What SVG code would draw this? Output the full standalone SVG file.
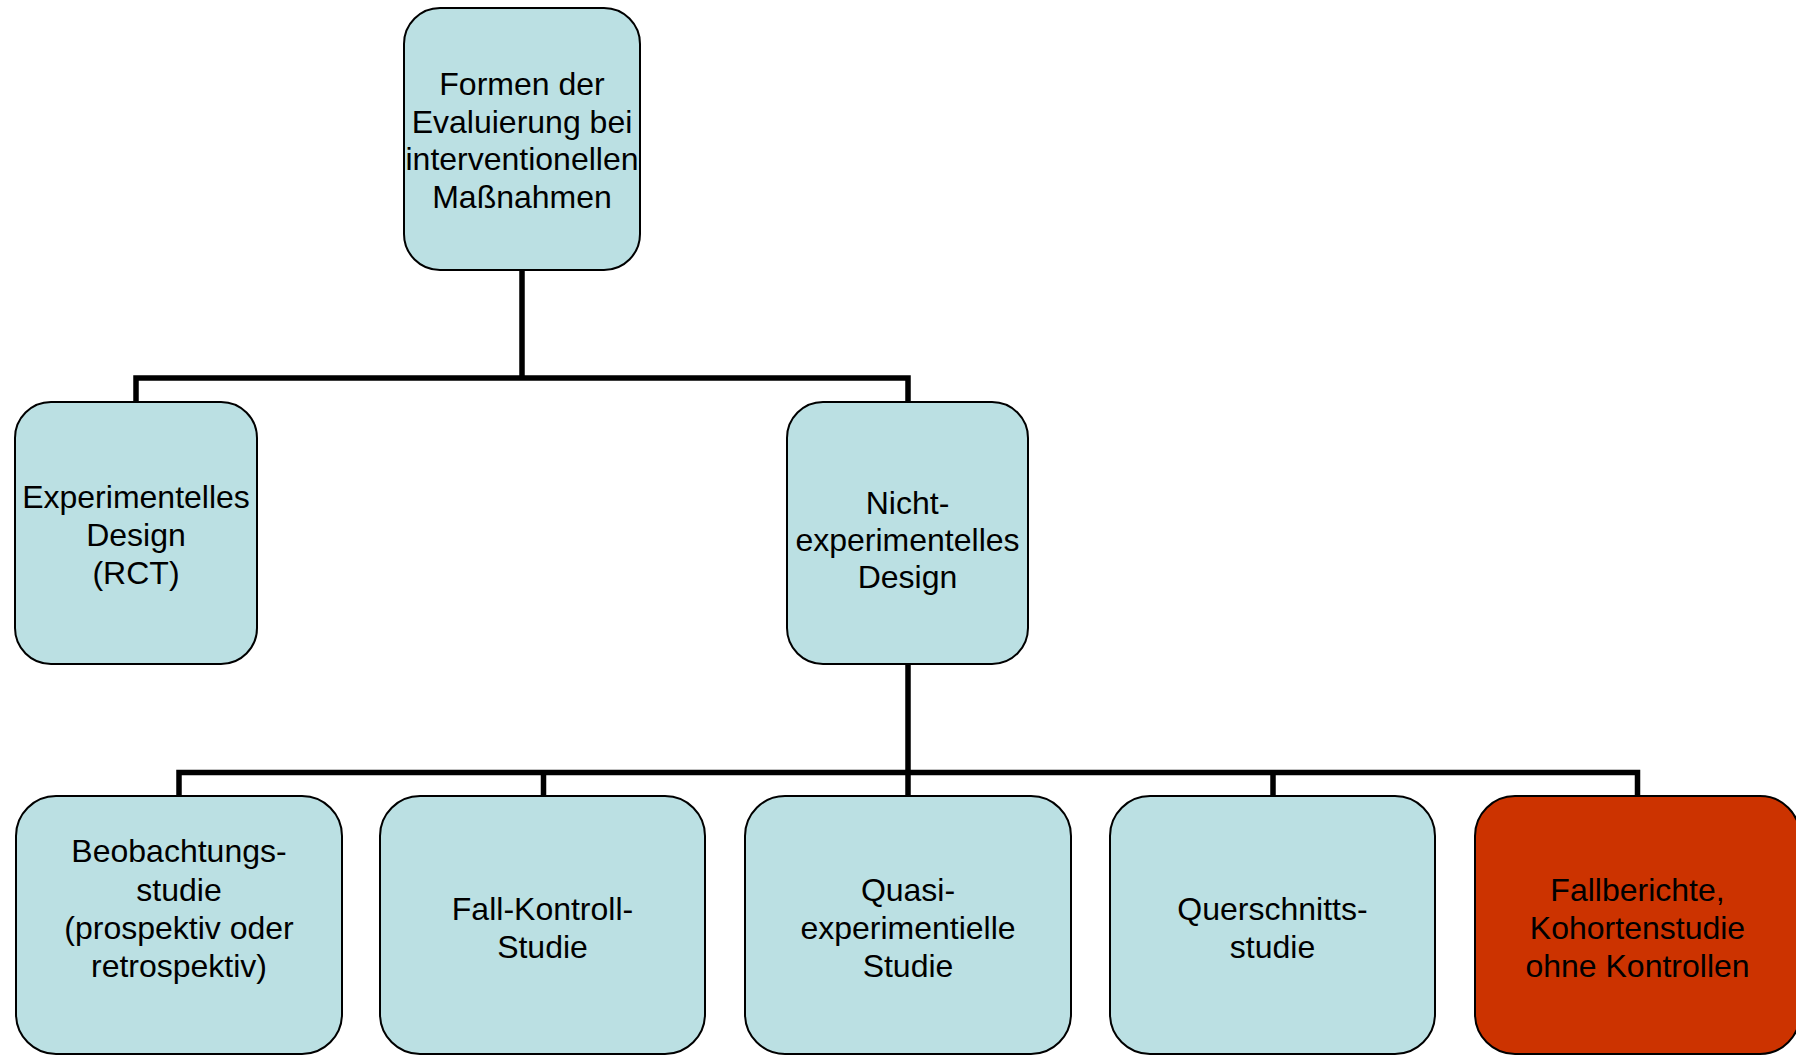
<svg xmlns="http://www.w3.org/2000/svg" width="1796" height="1056" viewBox="0 0 1796 1056">
<style>
.box{fill:#BBE0E3;stroke:#000;stroke-width:2}
.red{fill:#CC3300;stroke:#000;stroke-width:2}
.lbl{font-family:"Liberation Sans",Arial,sans-serif;font-size:32px;fill:#000;text-anchor:middle}
.con{fill:none;stroke:#000;stroke-width:5.5;stroke-linejoin:miter;stroke-linecap:butt}
</style>
<rect width="1796" height="1056" fill="#fff"/>
<g id="connectors">
<path class="con" d="M522 270 V378 M136 402 V378 H908 V402"/>
<path class="con" d="M908 664 V772.5 M179 796 V772.5 H1637.5 V796 M543.5 772.5 V796 M908 772.5 V796 M1273 772.5 V796"/>
</g>
<g id="n_root">
<rect class="box" x="404" y="8" width="236" height="262" rx="36"/>
<text class="lbl" x="522" y="95">Formen der</text>
<text class="lbl" x="522" y="132.5">Evaluierung bei</text>
<text class="lbl" x="522" y="170">interventionellen</text>
<text class="lbl" x="522" y="207.5">Maßnahmen</text>
</g>
<g id="n_exp">
<rect class="box" x="15" y="402" width="242" height="262" rx="36"/>
<text class="lbl" x="136" y="508">Experimentelles</text>
<text class="lbl" x="136" y="546">Design</text>
<text class="lbl" x="136" y="584">(RCT)</text>
</g>
<g id="n_nonexp">
<rect class="box" x="787" y="402" width="241" height="262" rx="36"/>
<text class="lbl" x="907.5" y="514">Nicht-</text>
<text class="lbl" x="907.5" y="551">experimentelles</text>
<text class="lbl" x="907.5" y="588">Design</text>
</g>
<g id="n_beob">
<rect class="box" x="16" y="796" width="326" height="258" rx="40"/>
<text class="lbl" x="179" y="862">Beobachtungs-</text>
<text class="lbl" x="179" y="900.5">studie</text>
<text class="lbl" x="179" y="939">(prospektiv oder</text>
<text class="lbl" x="179" y="977">retrospektiv)</text>
</g>
<g id="n_fallk">
<rect class="box" x="380" y="796" width="325" height="258" rx="40"/>
<text class="lbl" x="542.5" y="920">Fall-Kontroll-</text>
<text class="lbl" x="542.5" y="958">Studie</text>
</g>
<g id="n_quasi">
<rect class="box" x="745" y="796" width="326" height="258" rx="40"/>
<text class="lbl" x="908" y="901">Quasi-</text>
<text class="lbl" x="908" y="939">experimentielle</text>
<text class="lbl" x="908" y="977">Studie</text>
</g>
<g id="n_quer">
<rect class="box" x="1110" y="796" width="325" height="258" rx="40"/>
<text class="lbl" x="1272.5" y="920">Querschnitts-</text>
<text class="lbl" x="1272.5" y="958">studie</text>
</g>
<g id="n_fallber">
<rect class="red" x="1475" y="796" width="325" height="258" rx="40"/>
<text class="lbl" x="1637.5" y="901">Fallberichte,</text>
<text class="lbl" x="1637.5" y="939">Kohortenstudie</text>
<text class="lbl" x="1637.5" y="977">ohne Kontrollen</text>
</g>
</svg>
